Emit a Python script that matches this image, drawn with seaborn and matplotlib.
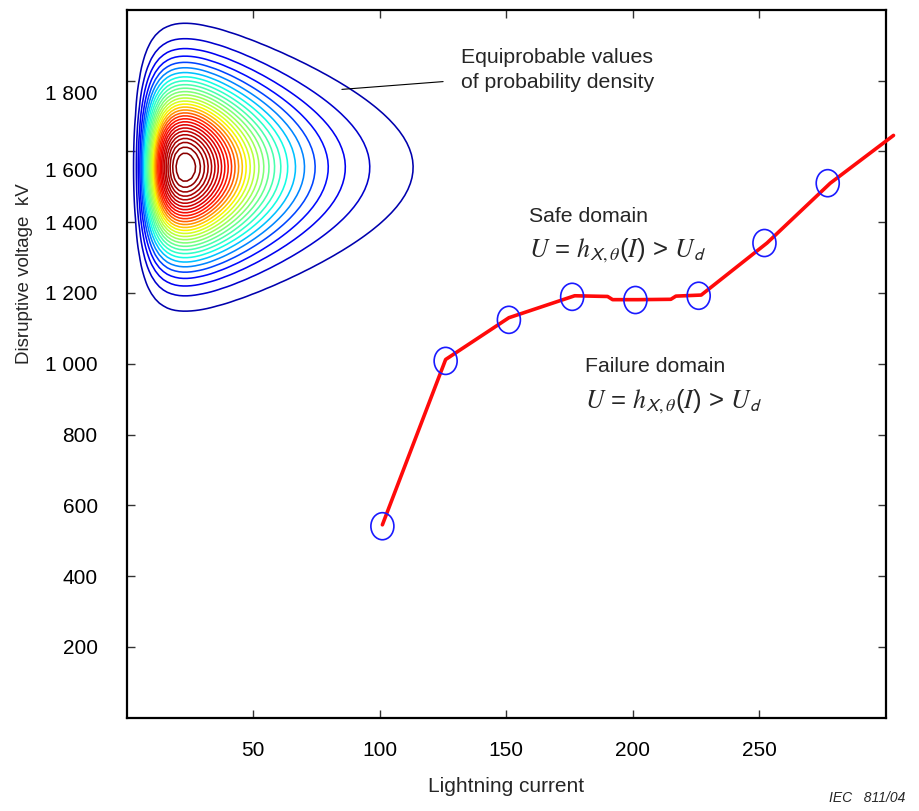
import numpy as np
import matplotlib
matplotlib.use("Agg")
import matplotlib.pyplot as plt
from matplotlib.path import Path
from matplotlib.transforms import Affine2D, ScaledTranslation
import pandas as pd
import seaborn as sns

# breakdown curve U = h(I)
current = [101, 126, 151, 177, 190, 192, 202, 215, 217, 227, 253, 278, 303]
voltage = [545, 1012, 1130, 1192, 1190, 1181, 1181, 1182, 1191, 1194, 1341, 1510, 1645]

# computed points (blue circles)
pts_current = [101, 126, 151, 176, 201, 226, 252, 277]
pts_voltage = [541, 1008, 1124, 1189, 1180, 1192, 1341, 1510]

# joint density: shifted lognormal in I, normal in U
I_MODE = 23.0
I_SHIFT = 3.0
I_LOG_SD = 0.571
U_MEAN = 1555.0
U_SD = 155.0
N_LEVELS = 30

x_ticks = [50, 100, 150, 200, 250]
y_ticks = [200, 400, 600, 800, 1000, 1200, 1400, 1600, 1800]

# how the relative density level maps onto the jet colours in the original
lvl_anchor = [0.0, 0.032, 0.12, 0.26, 0.5, 0.655, 0.82, 1.0]
jet_anchor = [0.03, 0.04, 0.12, 0.375, 0.625, 0.875, 0.95, 1.0]

sns.set_style("ticks")
plt.rcParams['font.family'] = ['Liberation Sans', 'DejaVu Sans']
plt.rcParams['mathtext.fontset'] = 'stix'

fig = plt.figure(figsize=(9.19, 8.11), dpi=100)
ax = fig.add_axes([0.138, 0.115, 0.826, 0.873])

# density contours (coarse grid like the original)
gi = np.linspace(0.3, 140, 90)
gu = np.linspace(900, 2200, 80)
GI, GU = np.meshgrid(gi, gu)
li = np.log(GI + I_SHIFT) - np.log(I_MODE + I_SHIFT)
z = np.exp(-li**2 / (2 * I_LOG_SD**2)) * np.exp(-(GU - U_MEAN)**2 / (2 * U_SD**2))
z = z / z.max()
levels = np.linspace(0, 1, N_LEVELS + 2)[1:-1]
jet = plt.get_cmap('jet')
level_colors = [jet(np.interp(c, lvl_anchor, jet_anchor)) for c in levels]
ax.contour(GI, GU, z, levels=levels, colors=level_colors, linewidths=1.15)

# breakdown curve
df = pd.DataFrame({'I': current, 'U': voltage})
sns.lineplot(data=df, x='I', y='U', color='#ff0a0a', linewidth=2.6, sort=False,
             ax=ax, clip_on=False, zorder=3)

# ellipse marker for the computed points
ell = Path.unit_circle().transformed(Affine2D().scale(0.85, 1.0))
pts = pd.DataFrame({'I': pts_current, 'U': pts_voltage})
sns.scatterplot(data=pts, x='I', y='U', marker=ell, s=380, facecolors='none',
                edgecolors='#1a1aff', linewidths=1.2, ax=ax, zorder=4)

ax.set_xlim(0, 300)
ax.set_ylim(0, 2000)
ax.set_xticks(x_ticks)
ax.set_yticks(y_ticks)
ax.set_yticklabels([f"{v:,}".replace(",", " ") for v in y_ticks])
ax.tick_params(direction='in', top=True, right=True, labelsize=15,
               width=1.0, length=6, colors='#333333', labelcolor='black')
ax.tick_params(axis='y', pad=21)
ax.tick_params(axis='x', pad=17)
for s in ax.spines.values():
    s.set_linewidth(1.6)
    s.set_color('black')

# the upper labels sit a little below their ticks in the original
for lab, v in zip(ax.get_yticklabels(), y_ticks):
    shift = {1800: -12, 1600: -18}.get(v, 0)
    if shift:
        lab.set_transform(lab.get_transform() + ScaledTranslation(0, shift / 100, fig.dpi_scale_trans))

ax.set_xlabel('Lightning current', fontsize=15, labelpad=12)
ax.set_ylabel('Disruptive voltage  kV', fontsize=13.5)
ax.yaxis.set_label_coords(-0.124, 0.627)

# annotations
ax.plot([85, 125], [1775, 1797], color='black', lw=0.8)
ax.text(131.9, 1830, 'Equiprobable values\nof probability density', fontsize=15.3,
        va='center', ha='left', linespacing=1.38)

formula = r'$U$ = $h_{\mathsf{X},\theta}$($I$) > $U_{\mathsf{d}}$'
ax.text(159, 1417, 'Safe domain', fontsize=15.3, va='center')
ax.text(159, 1318, formula, fontsize=18.5, va='center')
ax.text(181, 991, 'Failure domain', fontsize=15.3, va='center')
ax.text(181, 893, formula, fontsize=18.5, va='center')

fig.text(0.985, 0.008, 'IEC   811/04', fontsize=10, style='italic', ha='right', va='bottom')

fig.savefig('out.png', dpi=100)
